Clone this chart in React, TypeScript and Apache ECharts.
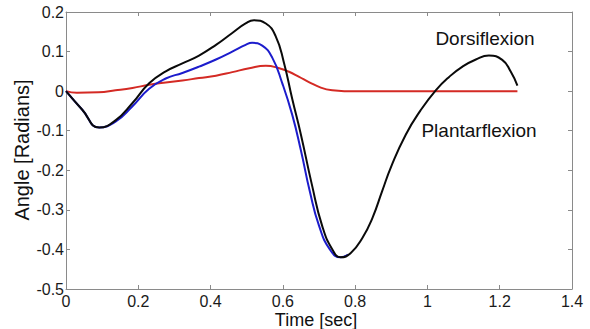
import React, { useEffect, useRef } from "react";
import * as echarts from "echarts";

const xTicks = [0, 0.2, 0.4, 0.6, 0.8, 1, 1.2, 1.4];
const yTicks = [-0.5, -0.4, -0.3, -0.2, -0.1, 0, 0.1, 0.2];

const blackSeries: [number, number][] = [
  [0, 0], [0.045, -0.047], [0.092, -0.092], [0.137, -0.074], [0.184, -0.03],
  [0.23, 0.02], [0.276, 0.05], [0.322, 0.07], [0.368, 0.09], [0.415, 0.117],
  [0.46, 0.147], [0.497, 0.171], [0.52, 0.179], [0.553, 0.171], [0.58, 0.139],
  [0.603, 0.072], [0.626, -0.02], [0.65, -0.11], [0.68, -0.235], [0.709, -0.341],
  [0.737, -0.4], [0.76, -0.42], [0.788, -0.409], [0.82, -0.371], [0.848, -0.32],
  [0.875, -0.252], [0.9, -0.19], [0.94, -0.11], [0.98, -0.05], [1.023, 0.002],
  [1.06, 0.036], [1.097, 0.062], [1.134, 0.08], [1.17, 0.09], [1.207, 0.079],
  [1.23, 0.05], [1.249, 0.014],
];

const blueSeries: [number, number][] = [
  [0, 0], [0.045, -0.047], [0.092, -0.092], [0.137, -0.077], [0.184, -0.038],
  [0.23, 0.006], [0.276, 0.032], [0.322, 0.046], [0.368, 0.062], [0.415, 0.08],
  [0.46, 0.1], [0.497, 0.117], [0.515, 0.122], [0.543, 0.115], [0.571, 0.084],
  [0.598, 0.021], [0.626, -0.06], [0.65, -0.15], [0.675, -0.255], [0.7, -0.34],
  [0.73, -0.4], [0.76, -0.42], [0.78, -0.413],
];

const redSeries: [number, number][] = [
  [0, 0], [0.03, -0.004], [0.09, -0.003], [0.137, 0.002], [0.184, 0.008],
  [0.23, 0.016], [0.276, 0.022], [0.322, 0.027], [0.368, 0.033], [0.415, 0.039],
  [0.46, 0.048], [0.507, 0.058], [0.553, 0.064], [0.59, 0.058], [0.617, 0.049],
  [0.645, 0.036], [0.672, 0.023], [0.705, 0.009], [0.737, 0.002], [0.77, 0],
  [0.9, 0], [1.1, 0], [1.249, 0],
];

const FONT = "'Liberation Sans', Arial, sans-serif";
const AXIS_GRAY = "#8a8a8a";

function fmt(v: number): string {
  const r = Math.round(v * 10) / 10;
  return (r === 0 ? 0 : r).toString();
}

export default function App() {
  const ref = useRef<HTMLDivElement>(null);
  useEffect(() => {
    if (!ref.current) return;
    const chart = echarts.init(ref.current, undefined, { renderer: "svg" });
    const axisCommon = {
      axisLine: { show: true, onZero: false, lineStyle: { color: AXIS_GRAY, width: 1 } },
      axisTick: { show: true, inside: true, length: 4, lineStyle: { color: AXIS_GRAY } },
      splitLine: { show: false },
    };
    const lineSeries = (name: string, data: [number, number][], color: string) => ({
      name,
      type: "line",
      data,
      smooth: 0.5,
      showSymbol: false,
      symbol: "none",
      lineStyle: { color, width: 2 },
      z: 3,
    });
    chart.setOption({
      animation: false,
      backgroundColor: "#ffffff",
      grid: { left: 66, top: 12, width: 506, height: 277, containLabel: false },
      xAxis: [
        {
          type: "value", min: xTicks[0], max: xTicks[xTicks.length - 1], interval: 0.2,
          position: "bottom",
          ...axisCommon,
          axisLabel: { show: true, margin: 4, color: "#1a1a1a", fontSize: 16, fontFamily: FONT, formatter: fmt },
        },
        {
          type: "value", min: xTicks[0], max: xTicks[xTicks.length - 1], interval: 0.2,
          position: "top",
          ...axisCommon,
          axisLabel: { show: false },
        },
      ],
      yAxis: [
        {
          type: "value", min: yTicks[0], max: yTicks[yTicks.length - 1], interval: 0.1,
          position: "left",
          ...axisCommon,
          axisLabel: { show: true, margin: 2, color: "#1a1a1a", fontSize: 16, fontFamily: FONT, formatter: fmt },
        },
        {
          type: "value", min: yTicks[0], max: yTicks[yTicks.length - 1], interval: 0.1,
          position: "right",
          ...axisCommon,
          axisLabel: { show: false },
        },
      ],
      series: [
        lineSeries("Red", redSeries, "#d42a24"),
        lineSeries("Blue", blueSeries, "#1c1ccc"),
        lineSeries("Black", blackSeries, "#0a0a0a"),
      ],
      graphic: [
        {
          type: "text", x: 485, y: 38,
          style: { text: "Dorsiflexion", fill: "#111", font: `19px ${FONT}`, align: "center", verticalAlign: "middle" },
        },
        {
          type: "text", x: 479, y: 130,
          style: { text: "Plantarflexion", fill: "#111", font: `19px ${FONT}`, align: "center", verticalAlign: "middle" },
        },
        {
          type: "text", x: 316, y: 320,
          style: { text: "Time [sec]", fill: "#111", font: `18px ${FONT}`, align: "center", verticalAlign: "middle" },
        },
        {
          type: "text", x: 22, y: 150, rotation: Math.PI / 2,
          style: { text: "Angle [Radians]", fill: "#111", font: `20px ${FONT}`, align: "center", verticalAlign: "middle" },
        },
      ],
    });
    return () => chart.dispose();
  }, []);
  return (
    <div
      ref={ref}
      style={{ position: "fixed", left: 0, top: 0, width: 590, height: 329, background: "#fff" }}
    />
  );
}
